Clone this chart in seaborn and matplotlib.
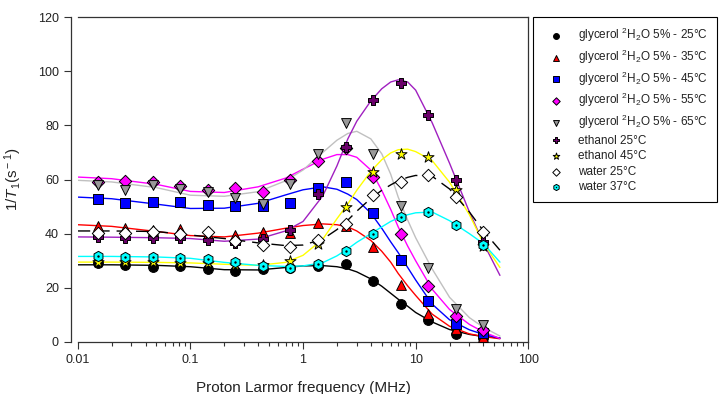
import matplotlib
matplotlib.use("Agg")
import matplotlib.pyplot as plt
import seaborn as sns

# measured frequencies (MHz) shared by all samples
freq = [0.015, 0.0263, 0.0463, 0.0813, 0.143, 0.251, 0.44, 0.774,
        1.36, 2.39, 4.2, 7.37, 12.95, 22.8, 40.0]

# measured 1/T1 (s^-1)
gly25 = [29.3, 28.3, 27.8, 28.0, 26.8, 26.1, 27.0, 27.2, 28.0, 28.7, 22.5, 13.9, 8.0, 2.9, 1.6]
gly35 = [43.0, 42.0, 41.3, 41.6, 40.0, 39.4, 40.6, 40.3, 44.0, 43.0, 35.1, 20.9, 10.5, 4.9, 1.8]
gly45 = [52.7, 51.5, 51.7, 51.7, 50.5, 50.2, 50.3, 51.4, 56.8, 59.1, 47.6, 30.2, 15.0, 6.8, 3.3]
gly55 = [59.0, 59.5, 59.1, 57.5, 56.0, 56.9, 55.5, 59.7, 66.7, 71.8, 60.9, 40.0, 20.7, 9.5, 4.3]
gly65 = [58.1, 56.3, 58.0, 56.4, 55.4, 53.0, 51.0, 58.5, 69.3, 80.9, 69.3, 50.1, 27.5, 12.3, 6.2]
eth25 = [38.8, 38.4, 38.4, 38.4, 37.6, 36.7, 38.0, 41.2, 54.5, 72.0, 89.3, 95.8, 83.7, 60.0, 36.9]
eth45 = [29.7, 29.5, 29.5, 29.3, 29.0, 28.6, 28.3, 30.0, 36.3, 49.9, 62.8, 69.6, 68.3, 56.0, 35.5]
wat25 = [40.3, 40.2, 40.8, 40.0, 40.5, 37.3, 35.7, 34.9, 37.6, 43.7, 54.2, 59.1, 61.6, 53.6, 40.6]
wat37 = [31.6, 31.4, 31.4, 31.0, 30.6, 29.6, 28.0, 27.5, 28.7, 33.6, 40.0, 46.2, 48.0, 43.3, 35.7]

# fitted curves at these frequencies
fit_freq = [0.01, 0.02, 0.05, 0.1, 0.2, 0.4, 0.7, 1, 1.5, 2, 2.5, 3, 4, 5, 6, 7,
            8.5, 10, 14, 20, 30, 40, 56]
fit_gly25 = [28.5, 28.5, 28.3, 27.8, 26.7, 26.6, 27.5, 28.1, 28.2, 27.8, 27.0, 25.9,
             23.3, 20.6, 18.0, 15.8, 13.2, 10.9, 7.4, 4.6, 2.8, 2.0, 1.5]
fit_gly35 = [43.3, 42.7, 40.8, 39.3, 38.8, 40.2, 42.0, 43.0, 43.6, 43.3, 42.5, 41.0,
             37.5, 33.5, 29.5, 25.3, 20.7, 17.2, 10.3, 5.8, 3.0, 2.0, 1.2]
fit_gly45 = [53.5, 52.9, 50.9, 49.3, 49.4, 51.2, 54.3, 56.2, 57.3, 56.4, 54.6, 52.6,
             47.6, 42.0, 37.0, 33.0, 27.5, 22.9, 14.0, 8.2, 4.5, 2.8, 1.4]
fit_gly55 = [60.9, 60.3, 58.2, 55.6, 55.2, 57.3, 60.5, 63.8, 67.5, 69.2, 69.2, 68.2,
             63.5, 56.0, 49.0, 42.5, 35.4, 30.0, 19.5, 12.0, 6.5, 3.7, 1.3]
fit_gly65 = [59.7, 59.1, 57.0, 54.2, 53.8, 55.5, 59.5, 63.5, 70.0, 74.5, 77.0, 77.8,
             75.0, 69.5, 62.0, 53.5, 45.0, 38.5, 27.0, 16.5, 9.0, 5.4, 2.2]
fit_eth25 = [38.8, 38.7, 38.5, 38.2, 37.2, 38.0, 41.0, 44.5, 54.0, 65.0, 75.0, 81.5,
             89.0, 93.5, 96.0, 96.8, 96.0, 93.0, 81.0, 66.0, 48.0, 36.5, 24.6]
fit_eth45 = [29.5, 29.5, 29.4, 29.2, 28.7, 28.3, 29.4, 32.0, 38.0, 45.5, 51.0, 56.0,
             63.0, 67.3, 69.8, 71.0, 71.2, 70.3, 67.0, 59.0, 47.0, 36.5, 27.5]
fit_wat25 = [41.0, 41.0, 40.8, 39.5, 38.2, 36.6, 35.6, 35.8, 38.0, 41.5, 45.0, 48.3,
             53.0, 56.0, 58.0, 59.5, 60.8, 61.5, 61.2, 56.5, 48.0, 41.0, 33.9]
fit_wat37 = [31.6, 31.6, 31.4, 30.9, 29.4, 28.3, 27.9, 28.1, 29.3, 31.8, 34.4, 36.8,
             40.0, 42.5, 44.5, 45.8, 47.0, 47.7, 48.0, 44.8, 40.0, 36.3, 29.5]

labels = [r"glycerol $^{\rm 2}$H$_{\rm 2}$O 5% - 25°C",
          r"glycerol $^{\rm 2}$H$_{\rm 2}$O 5% - 35°C",
          r"glycerol $^{\rm 2}$H$_{\rm 2}$O 5% - 45°C",
          r"glycerol $^{\rm 2}$H$_{\rm 2}$O 5% - 55°C",
          r"glycerol $^{\rm 2}$H$_{\rm 2}$O 5% - 65°C",
          "ethanol 25°C", "ethanol 45°C", "water 25°C", "water 37°C"]

sns.set_theme(style="ticks")
plt.rcParams["font.family"] = ["Liberation Sans", "DejaVu Sans"]
plt.rcParams["mathtext.fontset"] = "custom"
plt.rcParams["mathtext.rm"] = "Liberation Sans"
plt.rcParams["mathtext.it"] = "Liberation Sans:italic"
plt.rcParams["mathtext.bf"] = "Liberation Sans:bold"

fig = plt.figure(figsize=(7.25, 3.94), dpi=100)
ax = fig.add_axes([77.7 / 725, 52 / 394, 450.6 / 725, 325 / 394])
ax.set_xscale("log")

# (points, curve, marker, face colour, line colour, size, linestyle)
series = [
    (gly25, fit_gly25, "o", "black", "black", 50, "-"),
    (gly35, fit_gly35, "^", "#ff0000", "#ff0000", 50, "-"),
    (gly45, fit_gly45, "s", "#0000ff", "#0000ff", 42, "-"),
    (gly55, fit_gly55, "D", "#ff00ff", "#ff00ff", 40, "-"),
    (gly65, fit_gly65, "v", "#999999", "#c0c0c0", 50, "-"),
    (eth25, fit_eth25, "P", "#6a006a", "#a020c0", 45, "-"),
    (eth45, fit_eth45, "*", "#ffff00", "#ffff00", 70, "-"),
    (wat25, fit_wat25, "D", "white", "black", 40, (0, (9, 5))),
    (wat37, fit_wat37, "h", "#00ffff", "#00ffff", 55, "-"),
]

for pts, fit, mk, fc, lc, size, ls in series:
    sns.lineplot(x=fit_freq, y=fit, ax=ax, color=lc, linewidth=1.0,
                 linestyle=ls, legend=False, zorder=2)

handles = []
for (pts, fit, mk, fc, lc, size, ls), lab in zip(series, labels):
    sns.scatterplot(x=freq, y=pts, ax=ax, marker=mk, s=size, color=fc,
                    edgecolor="black", linewidth=0.7, zorder=3, legend=False)
    handles.append(ax.collections[-1])

# centre dot of the water 37 hexagons
sns.scatterplot(x=freq, y=wat37, ax=ax, marker="o", s=3, color="black",
                linewidth=0, zorder=4, legend=False)
handles[-1] = (handles[-1], ax.collections[-1])

ax.set_xlim(0.01, 100)
ax.set_ylim(0, 120)
ax.set_yticks([0, 20, 40, 60, 80, 100, 120])
ax.set_xticks([0.01, 0.1, 1, 10, 100])
ax.set_xticklabels(["0.01", "0.1", "1", "10", "100"])
ax.tick_params(axis="both", which="major", direction="out", length=5,
               width=0.8, labelsize=9, color="#333333", labelcolor="#222222")
ax.tick_params(axis="x", which="minor", direction="out", length=3,
               width=0.8, color="#333333")
ax.tick_params(right=False, top=False, which="both")
ax.spines["left"].set_position(("outward", 5))
for sp in ax.spines.values():
    sp.set_color("#333333")
    sp.set_linewidth(0.9)

ax.set_xlabel("Proton Larmor frequency (MHz)", fontsize=11, color="#222222")
ax.set_ylabel(r"1/$\mathit{T}_{\rm 1}$(s$^{\rm -1}$)", fontsize=11, color="#222222")
ax.xaxis.set_label_coords(0.5, -0.12)
ax.yaxis.set_label_coords(-0.12, 0.5)

leg = fig.legend(handles, labels, loc="upper left",
                 bbox_to_anchor=(533 / 725, 1 - 17 / 394), borderaxespad=0,
                 frameon=True, fancybox=False, edgecolor="black", framealpha=1,
                 fontsize=8.5, markerscale=0.6, borderpad=0.75, handlelength=2.4,
                 handletextpad=0.7, labelspacing=0.3)
leg.get_frame().set_linewidth(0.8)
for t in leg.get_texts():
    t.set_color("#222222")

fig.savefig("out.png", dpi=100)
